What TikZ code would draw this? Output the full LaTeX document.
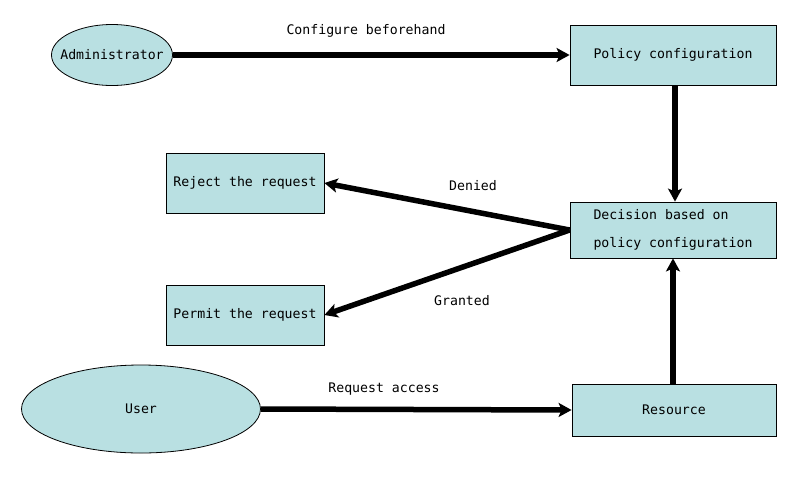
\documentclass[tikz,border=0pt]{standalone}
\usepackage{fontspec}
\setmonofont{DejaVu Sans Mono}
\usepackage{tikz}
\usetikzlibrary{arrows.meta,shapes.geometric}
\definecolor{boxfill}{HTML}{B9E0E2}
\tikzset{
  box/.style={draw,fill=boxfill,line width=0.8pt,inner sep=0pt},
  actor/.style={ellipse,draw,fill=boxfill,line width=0.8pt,inner sep=0pt},
  flow/.style={line width=5.5pt,-{Stealth[length=13pt,width=14pt,inset=3pt]}},
  lbl/.style={inner sep=0pt}
}
\begin{document}
\begin{tikzpicture}[x=1pt,y=-1pt,font=\ttfamily\fontsize{13.2}{28}\selectfont]
            \useasboundingbox (0,0) rectangle (800,480);
            \node[actor,inner xsep=-10pt,minimum width=121,minimum height=61] (admin) at (112,55) {Administrator};
            \node[actor,minimum width=239,minimum height=88] (user) at (141,409) {User};
            \node[box,minimum width=206,minimum height=60] (policy) at (673,55) {Policy configuration};
            \node[box,minimum width=206,minimum height=56,align=left] (decision) at (673,230) {Decision based on\\policy configuration};
            \node[box,minimum width=158,minimum height=60] (reject) at (245,183) {Reject the request};
            \node[box,minimum width=158,minimum height=60] (permit) at (245,315) {Permit the request};
            \node[box,minimum width=204,minimum height=52] (resource) at (674,410) {Resource};
            \draw[flow] (admin.east) -- (policy.west);
            \draw[flow] (policy.south -| 675,0) -- (decision.north -| 675,0);
            \draw[flow] (decision.west) -- (reject.east);
            \draw[flow] (decision.west) -- (permit.east);
            \draw[flow] (user.east) -- (resource.west);
            \draw[flow] (resource.north -| 673,0) -- (decision.south -| 673,0);
            \node[lbl] (cfg) at (366,31) {Configure beforehand};
            \node[lbl] (den) at (473,186) {Denied};
            \node[lbl] (gra) at (462,301) {Granted};
            \node[lbl] (req) at (384,389) {Request access};
        \end{tikzpicture}
\end{document}
